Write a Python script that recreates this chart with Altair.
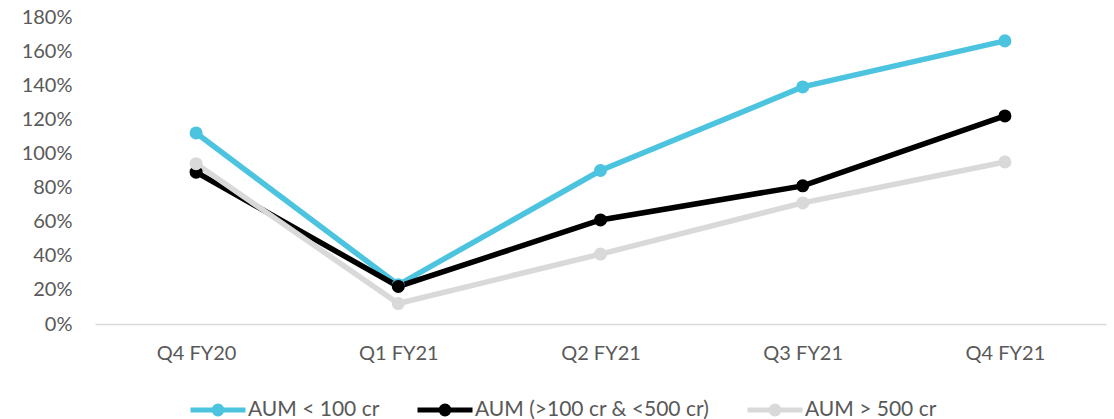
import altair as alt
import pandas as pd

categories = ["Q4 FY20", "Q1 FY21", "Q2 FY21", "Q3 FY21", "Q4 FY21"]
series_names = ["AUM < 100 cr", "AUM (>100 cr & <500 cr)", "AUM > 500 cr"]
aum_small = [1.12, 0.23, 0.90, 1.39, 1.66]
aum_mid = [0.89, 0.22, 0.61, 0.81, 1.22]
aum_large = [0.94, 0.12, 0.41, 0.71, 0.95]
colors = ["#4DC4DF", "#000000", "#D9D9D9"]
y_ticks = [0, 0.2, 0.4, 0.6, 0.8, 1.0, 1.2, 1.4, 1.6, 1.8]

rows = []
for name, vals in zip(series_names, [aum_small, aum_mid, aum_large]):
    for c, v in zip(categories, vals):
        rows.append({"quarter": c, "series": name, "value": v, "s_order": series_names.index(name)})
df = pd.DataFrame(rows)

FONT = "Lato"
TXT = "#595959"
FS = 20

legend_path = ("M-1,0L1,0 "
               "M0.145,0A0.145,0.145,0,1,1,-0.145,0A0.145,0.145,0,1,1,0.145,0 "
               "M0.05,0A0.05,0.05,0,1,1,-0.05,0A0.05,0.05,0,1,1,0.05,0")

x_enc = alt.X("quarter:N", sort=categories,
              scale=alt.Scale(type="point", padding=0.5),
              axis=alt.Axis(title=None, labelAngle=0, ticks=False, domainColor="#D9D9D9",
                            domainWidth=1.5, labelPadding=19, labelFontSize=FS,
                            labelColor=TXT, labelFont=FONT, grid=False))
y_enc = alt.Y("value:Q", scale=alt.Scale(domain=[0, 1.8], nice=False),
              axis=alt.Axis(title=None, values=y_ticks, format=".0%", domain=False, ticks=False,
                            grid=False, labelPadding=23, labelFontSize=FS, labelColor=TXT,
                            labelFont=FONT))

color_enc = alt.Color("series:N", scale=alt.Scale(domain=series_names, range=colors),
                      legend=alt.Legend(title=None, orient="none", direction="horizontal",
                                        legendX=93, legendY=363,
                                        symbolType=legend_path, symbolSize=3025,
                                        symbolStrokeWidth=5, symbolOpacity=1,
                                        labelFontSize=21, labelColor=TXT, labelFont=FONT,
                                        labelOffset=0, columnPadding=27, labelLimit=500,
                                        padding=0))

lines = alt.Chart(df).mark_line(strokeWidth=5.5).encode(
    x=x_enc, y=y_enc, color=color_enc, order=alt.Order("s_order:Q"),
)

points = alt.Chart(df).mark_point(filled=True, size=170, opacity=1, shape="circle").encode(
    x=x_enc, y=y_enc, color=color_enc, order=alt.Order("s_order:Q"),
)

chart = alt.layer(lines, points).properties(
    width=1011, height=307,
    background="white",
    autosize=alt.AutoSizeParams(type="none"),
    padding={"left": 95, "top": 17, "right": 8, "bottom": 95},
).configure_view(stroke=None)

chart.save("out.html", embed_options={"renderer": "svg", "actions": False})
